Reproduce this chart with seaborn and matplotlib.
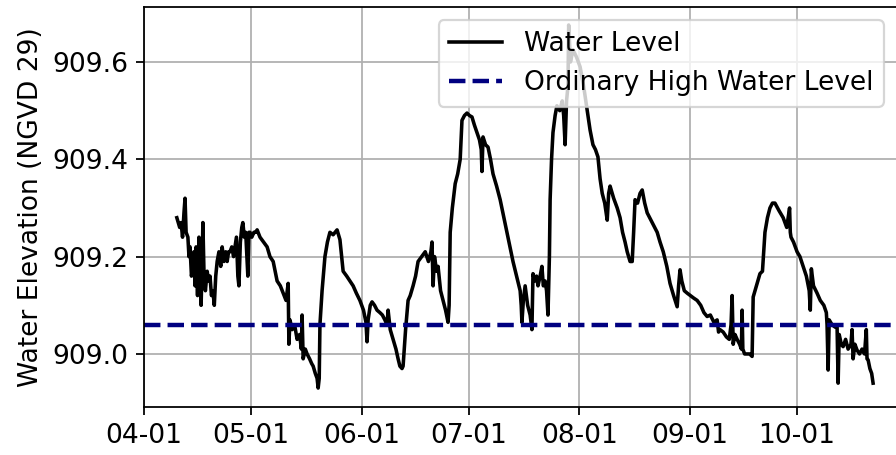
import pandas as pd
import seaborn as sns
import matplotlib
matplotlib.use('Agg')
import matplotlib.pyplot as plt
import matplotlib.dates as mdates
from matplotlib.ticker import FormatStrFormatter

# days after 04-01
day = [
    9.2, 9.6, 10.0, 10.4, 10.8, 11.2, 11.5, 11.8, 12.3, 12.6, 12.9, 13.3, 13.7, 14.0, 14.3, 14.6, 15.0, 15.4, 15.8, 16.0,
    16.3, 16.5, 16.8, 17.2, 17.7, 18.1, 18.5, 18.9, 19.3, 19.7, 20.1, 20.5, 21.0, 21.5, 21.9, 22.4, 22.9, 23.3, 23.7, 24.1,
    24.6, 25.1, 25.5, 25.9, 26.3, 26.6, 27.0, 27.4, 27.7, 28.1, 28.5, 29.1, 29.4, 29.7, 30.2, 30.8, 31.3, 31.7,
    32.5, 33.5, 34.5, 35.3, 36.2, 37.3, 38.2, 39.0, 39.8, 40.4, 40.6, 40.9, 41.5, 42.2, 42.9, 43.6, 44.1, 44.3, 44.6, 45.2,
    45.7, 46.4, 47.0, 47.4, 48.0, 48.5, 48.8,
    49.1, 49.3, 49.9, 50.7, 51.4, 52.1, 53.0, 54.1, 54.5, 54.9, 55.4, 55.8, 56.8, 57.7, 58.6, 59.5, 60.5, 61.5, 62.2, 62.5,
    62.8, 63.4, 63.9, 64.6, 65.3, 66.1, 66.8, 67.5, 68.1, 68.4, 69.0, 69.8, 70.6, 71.2, 71.7, 72.3, 72.6,
    73.3, 74.0, 74.6, 75.4, 76.1, 76.8, 77.8, 78.8, 79.7, 80.4, 80.7, 81.0, 81.4, 82.0, 82.4, 83.1, 83.8, 84.5, 85.2,
    85.5, 85.8, 86.4, 87.2, 87.9, 88.6, 89.1, 89.8, 90.5, 91.2, 91.9, 92.6, 93.3, 94.0, 94.5, 94.7, 95.0, 95.7, 96.4, 97.1,
    97.8, 98.8, 99.8, 100.7, 101.7, 102.5, 103.4, 104.4, 105.4,
    105.7, 105.9, 106.3, 106.8, 107.5, 108.2, 108.7, 109.0, 109.5, 110.0, 110.4, 111.0, 111.5, 111.9, 112.4, 112.8, 113.2,
    113.6, 113.8, 114.2, 114.6, 115.2, 115.7, 116.5, 117.2, 117.6, 118.0, 118.4, 118.8, 119.0, 119.5, 120.2, 121.2, 122.2,
    123.2, 124.2, 125.0, 125.8, 126.5, 127.2, 127.8, 128.4, 129.1, 129.8, 130.2, 130.6, 131.6, 132.6, 133.4,
    134.1, 134.8, 135.4, 136.2, 136.8, 137.2, 137.6, 138.3, 139.0, 139.6, 140.3, 141.0, 142.4, 143.8, 144.6, 145.5, 146.5,
    147.4, 148.4, 149.4,
    149.8, 150.2, 150.7, 151.4, 152.2, 153.1, 154.0, 155.0, 156.0, 156.9, 157.8, 158.7, 159.7, 160.6, 161.0, 161.4, 162.3,
    163.2, 164.0, 164.5, 164.8, 165.1, 165.6, 166.2, 166.9, 167.4, 167.6, 167.8, 168.3, 169.0, 169.7, 170.4,
    170.7, 171.6, 172.6, 173.3, 174.0, 174.7, 175.4, 176.1, 176.8, 177.9, 179.1, 180.1, 180.9, 181.1, 181.3, 182.0, 183.0,
    183.8, 184.7, 185.6, 186.4, 186.7, 187.0, 187.6, 188.6, 189.5, 190.5, 191.2, 191.4, 191.7, 192.0, 192.8, 193.7, 194.2,
    194.5, 194.8, 195.4, 195.9, 196.6, 197.3, 198.1, 198.4, 198.7, 199.2, 199.8, 200.5, 201.2, 201.9, 202.4, 202.6, 202.9,
    203.4, 203.9, 204.3,
]

level = [
    909.28, 909.27, 909.26, 909.27, 909.24, 909.29, 909.32, 909.25, 909.24, 909.20, 909.22, 909.16, 909.18, 909.21, 909.14,
    909.22, 909.12, 909.24, 909.15, 909.10, 909.19, 909.27, 909.17, 909.13, 909.17, 909.15, 909.16, 909.12, 909.13, 909.10,
    909.16, 909.19, 909.21, 909.18, 909.22, 909.19, 909.21, 909.19, 909.21, 909.21, 909.22, 909.20, 909.22, 909.24, 909.16,
    909.14, 909.23, 909.26, 909.27, 909.24, 909.25, 909.16, 909.25, 909.25, 909.24, 909.25, 909.25, 909.255,
    909.24, 909.23, 909.22, 909.20, 909.19, 909.15, 909.14, 909.125, 909.11, 909.145, 909.02, 909.07, 909.05, 909.06,
    909.03, 909.04, 909.01, 909.08, 908.99, 909.01, 909.0, 908.99, 908.98, 908.975, 908.96, 908.95, 908.93,
    908.95, 909.06, 909.13, 909.20, 909.23, 909.25, 909.245, 909.255, 909.245, 909.235, 909.2, 909.17, 909.16, 909.15,
    909.14, 909.125, 909.11, 909.09, 909.065, 909.025, 909.07, 909.10, 909.107, 909.1, 909.09, 909.085, 909.08, 909.07,
    909.06, 909.09, 909.05, 909.03, 909.01, 908.99, 908.975, 908.97, 908.975,
    909.05, 909.11, 909.12, 909.14, 909.16, 909.19, 909.2, 909.21, 909.19, 909.21, 909.23, 909.14, 909.2, 909.17, 909.18,
    909.13, 909.11, 909.09, 909.065,
    909.10, 909.25, 909.30, 909.35, 909.37, 909.40, 909.48, 909.49, 909.495, 909.49, 909.487, 909.47, 909.455, 909.44,
    909.42, 909.375, 909.446, 909.43, 909.425, 909.40, 909.37, 909.345, 909.317, 909.285, 909.25, 909.22, 909.19, 909.16,
    909.13,
    909.10, 909.065, 909.11, 909.14, 909.10, 909.08, 909.05, 909.165, 909.15, 909.16, 909.14, 909.16, 909.18, 909.14,
    909.15, 909.13, 909.08,
    909.20, 909.317, 909.40, 909.455, 909.49, 909.51, 909.50, 909.52, 909.49, 909.43, 909.52, 909.55, 909.676, 909.60,
    909.625, 909.61, 909.59, 909.55, 909.50, 909.46, 909.43, 909.42, 909.405, 909.36, 909.33, 909.31, 909.275, 909.33,
    909.345, 909.32, 909.30, 909.28,
    909.25, 909.23, 909.21, 909.19, 909.19, 909.25, 909.317, 909.31, 909.33, 909.337, 909.31, 909.29, 909.27, 909.25,
    909.23, 909.21, 909.18, 909.145, 909.12, 909.097,
    909.14, 909.173, 909.15, 909.13, 909.125, 909.12, 909.115, 909.11, 909.10, 909.085, 909.077, 909.08, 909.065, 909.07,
    909.045, 909.05, 909.045, 909.035, 909.03, 909.06, 909.12, 909.02, 909.04, 909.03, 909.02, 909.01, 909.09, 909.01,
    909.0, 909.0, 909.0, 908.995,
    909.117, 909.14, 909.165, 909.17, 909.25, 909.28, 909.30, 909.31, 909.31, 909.295, 909.28, 909.26, 909.30, 909.25,
    909.24, 909.23, 909.21,
    909.20, 909.18, 909.16, 909.13, 909.09, 909.175, 909.14, 909.125, 909.11, 909.10, 909.085, 909.06, 908.967, 909.07,
    909.06, 909.055, 909.06, 908.94, 909.04, 909.02, 909.015, 909.03, 909.01, 909.02, 909.05, 908.99, 909.02, 909.008,
    909.0, 909.01, 909.0, 909.05, 908.99, 908.988, 908.97, 908.96, 908.94,
]

ohwl = 909.06
start = pd.Timestamp('2023-04-01')

df = pd.DataFrame({'date': start + pd.to_timedelta(day, unit='D'), 'level': level})

plt.rcParams['font.size'] = 11.95
fig = plt.figure(figsize=(5.6, 2.84375), dpi=160)
ax = fig.add_axes([144 / 896, 48 / 455, 753 / 896, 400 / 455])

sns.lineplot(data=df, x='date', y='level', color='black', linewidth=1.6,
             estimator=None, sort=False, label='Water Level', ax=ax)
ax.axhline(ohwl, color='navy', linestyle='--', linewidth=2.0, label='Ordinary High Water Level')

ax.set_xlim(start, start + pd.Timedelta(days=211))
ax.set_ylim(908.891, 909.713)
ax.xaxis.set_major_locator(mdates.MonthLocator())
ax.xaxis.set_major_formatter(mdates.DateFormatter('%m-%d'))
ax.yaxis.set_major_formatter(FormatStrFormatter('%.1f'))
ax.grid(True)
ax.set_xlabel('')
ax.set_ylabel('Water Elevation (NGVD 29)')
ax.legend(loc='upper right')

fig.savefig('out.png', dpi=160)
